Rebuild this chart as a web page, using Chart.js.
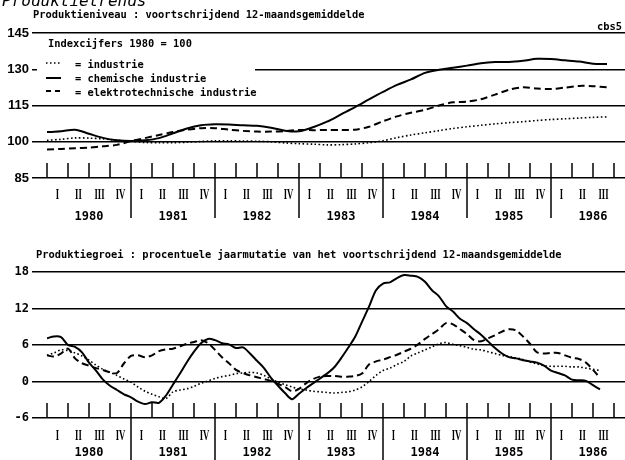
<!DOCTYPE html>
<html lang="nl">
<head>
<meta charset="utf-8">
<title>Produktietrends</title>
<script src="https://cdn.jsdelivr.net/npm/chart.js@4.4.1/dist/chart.umd.min.js"></script>
<style>
  html, body { margin: 0; padding: 0; background: #fff; }
  #pagina { position: relative; width: 625px; height: 460px; overflow: hidden; color: #000;
            font-family: "DejaVu Sans Mono", monospace; }
  .vak { position: absolute; left: 0; width: 625px; height: 230px; }
  #vakNiveau { top: 0; }
  #vakGroei { top: 230px; }
  .tekst { position: absolute; white-space: nowrap; line-height: 1; font-size: 10.4px; font-weight: bold; z-index: 3; }
  #hoofdtitel { left: 2px; top: -7px; font-size: 16px; font-weight: normal; font-style: italic; }
  #legendaVak { position: absolute; left: 37px; top: 54px; width: 218px; height: 44px; background: #fff; z-index: 2; }
  .monster { position: absolute; left: 45px; z-index: 3; }
</style>
</head>
<body>
<div id="pagina">
  <div class="vak" id="vakNiveau"><canvas id="niveauChart"></canvas></div>
  <div class="vak" id="vakGroei"><canvas id="groeiChart"></canvas></div>

  <div class="tekst" id="hoofdtitel">Produktietrends</div>
  <div class="tekst" style="left:33px; top:9px;">Produktieniveau : voortschrijdend 12-maandsgemiddelde</div>
  <div class="tekst" style="left:597px; top:21px;">cbs5</div>
  <div class="tekst" style="left:48px; top:38px;">Indexcijfers 1980 = 100</div>

  <div id="legendaVak"></div>
  <svg class="monster" style="top:60px" width="18" height="6"><line x1="1" y1="3" x2="17" y2="3" stroke="#000" stroke-width="1.5" stroke-dasharray="1.5 2.5"/></svg>
  <svg class="monster" style="top:75px" width="18" height="6"><line x1="1" y1="3" x2="16" y2="3" stroke="#000" stroke-width="2"/></svg>
  <svg class="monster" style="top:88px" width="18" height="6"><line x1="1" y1="3" x2="17" y2="3" stroke="#000" stroke-width="2" stroke-dasharray="5 4"/></svg>
  <div class="tekst" style="left:75px; top:59px;">= industrie</div>
  <div class="tekst" style="left:75px; top:73px;">= chemische industrie</div>
  <div class="tekst" style="left:75px; top:87px;">= elektrotechnische industrie</div>

  <div class="tekst" style="left:36px; top:249px;">Produktiegroei : procentuele jaarmutatie van het voortschrijdend 12-maandsgemiddelde</div>
</div>

<script>
// maanden vanaf januari 1980
const maandenNiveau = [0, 2, 4, 6, 8, 10, 12, 14, 16, 18, 20, 22, 24, 26, 28, 30, 32, 34, 36, 38,
    40, 42, 44, 46, 48, 50, 52, 54, 56, 58, 60, 62, 64, 66, 68, 70, 72, 74, 76, 78, 80];

const niveauIndustrie = [100.6, 101.0, 101.6, 101.5, 101.2, 100.6, 100.2, 99.7, 99.6, 99.6,
    99.8, 100.1, 100.4, 100.4, 100.3, 100.2, 100.0, 99.5, 99.2, 99.0,
    98.7, 98.8, 99.1, 99.6, 100.4, 101.7, 102.8, 103.7, 104.6, 105.5,
    106.2, 106.8, 107.4, 107.9, 108.3, 108.8, 109.2, 109.5, 109.8, 110.1, 110.3];
const niveauChemie = [104.0, 104.3, 105.0, 103.3, 101.6, 100.6, 100.3, 100.6, 101.5, 103.5,
    105.5, 106.8, 107.2, 107.1, 106.8, 106.6, 105.8, 104.6, 104.3, 106.0,
    108.3, 111.3, 114.3, 117.5, 120.6, 123.5, 125.8, 128.5, 129.8, 130.6,
    131.5, 132.5, 133.0, 133.0, 133.5, 134.3, 134.2, 133.7, 133.2, 132.3, 132.2];
const niveauElektro = [96.8, 97.0, 97.3, 97.6, 98.1, 98.7, 100.3, 101.5, 102.8, 104.0,
    105.0, 105.6, 105.6, 105.0, 104.5, 104.2, 104.2, 104.4, 104.9, 104.8,
    104.9, 104.9, 105.0, 106.2, 108.5, 110.5, 112.0, 113.2, 115.0, 116.3,
    116.6, 117.6, 119.5, 121.5, 122.5, 122.0, 121.8, 122.4, 123.1, 123.0, 122.5];

const maandenGroei = [0, 1, 2, 3, 4, 5, 6, 7, 8, 9, 10, 11, 12, 13, 14, 15, 16, 17, 18, 19,
    20, 21, 22, 23, 24, 25, 26, 27, 28, 29, 30, 31, 32, 33, 34, 35, 36, 37, 38, 39,
    40, 41, 42, 43, 44, 45, 46, 47, 48, 49, 50, 51, 52, 53, 54, 55, 56, 57, 58, 59,
    60, 61, 62, 63, 64, 65, 66, 67, 68, 69, 70, 71, 72, 73, 74, 75, 76, 77, 78, 79];

const groeiIndustrie = [4.3, 4.7, 5.2, 5.1, 4.7, 4.2, 3.5, 2.7, 2.0, 1.5,
    1.0, 0.4, -0.1, -0.9, -1.6, -2.1, -2.5, -2.8, -1.7, -1.4,
    -1.2, -0.8, -0.3, 0.1, 0.5, 0.8, 1.0, 1.3, 1.4, 1.5,
    1.4, 1.0, 0.4, -0.1, -0.5, -0.9, -1.2, -1.4, -1.6, -1.7,
    -1.8, -1.9, -1.8, -1.7, -1.4, -0.9, 0.0, 1.0, 1.8, 2.2,
    2.8, 3.3, 4.2, 4.7, 5.2, 5.7, 6.2, 6.4, 6.1, 5.9,
    5.6, 5.3, 5.2, 4.9, 4.6, 4.3, 4.1, 3.9, 3.6, 3.2,
    2.9, 2.6, 2.5, 2.5, 2.5, 2.4, 2.4, 2.2, 2.0, 1.8];
const groeiChemie = [7.1, 7.4, 7.3, 6.0, 5.7, 4.8, 3.1, 1.8, 0.3, -0.7,
    -1.4, -2.1, -2.6, -3.3, -3.7, -3.4, -3.5, -2.3, -0.5, 1.3,
    3.2, 4.9, 6.3, 7.0, 6.8, 6.3, 6.1, 5.5, 5.6, 4.6,
    3.4, 2.2, 0.6, -0.7, -1.9, -2.9, -2.0, -1.1, -0.3, 0.5,
    1.3, 2.3, 3.8, 5.5, 7.3, 9.8, 12.3, 15.0, 16.1, 16.3,
    17.0, 17.5, 17.4, 17.2, 16.4, 15.0, 14.0, 12.4, 11.5, 10.3,
    9.6, 8.6, 7.7, 6.6, 5.5, 4.6, 4.0, 3.8, 3.5, 3.3,
    3.1, 2.6, 1.8, 1.4, 1.0, 0.3, 0.2, 0.1, -0.6, -1.3];
const groeiElektro = [4.3, 4.1, 4.6, 5.4, 3.8, 3.0, 2.6, 2.2, 1.9, 1.5,
    1.4, 3.0, 4.2, 4.3, 4.0, 4.3, 5.0, 5.3, 5.4, 5.8,
    6.2, 6.5, 6.8, 6.3, 5.2, 4.0, 3.0, 1.9, 1.4, 1.0,
    0.7, 0.4, 0.1, -0.4, -0.9, -1.6, -1.2, -0.3, 0.4, 0.8,
    0.9, 0.9, 0.8, 0.8, 0.9, 1.3, 2.8, 3.3, 3.6, 4.0,
    4.4, 4.9, 5.4, 6.1, 7.0, 7.8, 8.6, 9.6, 9.4, 8.6,
    7.8, 6.8, 6.6, 7.1, 7.6, 8.2, 8.6, 8.4, 7.4, 6.2,
    4.8, 4.6, 4.7, 4.7, 4.3, 3.9, 3.7, 3.1, 1.9, 0.6];

const niveauTicks = [85, 100, 115, 130, 145];
const groeiTicks = [-6, 0, 6, 12, 18];
const kwartalen = ['I', 'II', 'III', 'IV'];
const jaren = ['1980', '1981', '1982', '1983', '1984', '1985', '1986'];

// kwartaalverdeling onder de grafiek: streepjes, jaarlijnen, romeinse cijfers en jaartallen
const kwartaalAs = {
    id: 'kwartaalAs',
    afterDraw(chart, args, opts) {
        const ctx = chart.ctx;
        const xs = chart.scales.x;
        const basis = chart.chartArea.bottom;
        ctx.save();
        ctx.strokeStyle = '#000';
        ctx.lineWidth = 1.5;
        for (let q = 0; q * 3 <= xs.max; q++) {
            const px = Math.round(xs.getPixelForValue(q * 3));
            const jaarGrens = q % 4 === 0 && q > 0;
            ctx.beginPath();
            ctx.moveTo(px, basis - 15);
            ctx.lineTo(px, jaarGrens ? basis + opts.jaarLijn : basis);
            ctx.stroke();
        }
        ctx.fillStyle = '#000';
        ctx.textAlign = 'center';
        ctx.textBaseline = 'middle';
        ctx.font = 'bold 14px "Liberation Serif"';
        for (let q = 0; q * 3 + 3 <= xs.max; q++) {
            const px = xs.getPixelForValue(q * 3 + 1.5);
            ctx.save();
            ctx.translate(px, basis + opts.romeinY);
            ctx.scale(0.62, 1);
            ctx.fillText(kwartalen[q % 4], 0, 0);
            ctx.restore();
        }
        ctx.font = 'bold 12px "DejaVu Sans Mono"';
        jaren.forEach((j, i) => {
            ctx.fillText(j, xs.getPixelForValue(i * 12 + 6), basis + opts.jaarY);
        });
        ctx.restore();
    }
};

function reeks(maanden, waarden) {
    return maanden.map((m, i) => ({ x: m, y: waarden[i] }));
}

function maakGrafiek(id, maanden, ind, chem, elek, yMin, yMax, yTicks, tickFont, padding, asOpties) {
    new Chart(document.getElementById(id), {
        type: 'line',
        data: {
            datasets: [
                { label: 'industrie', data: reeks(maanden, ind), borderColor: '#000', borderWidth: 1.6,
                  borderDash: [1.6, 2.4], pointRadius: 0, tension: 0.3 },
                { label: 'chemische industrie', data: reeks(maanden, chem), borderColor: '#000', borderWidth: 2,
                  pointRadius: 0, tension: 0.3 },
                { label: 'elektrotechnische industrie', data: reeks(maanden, elek), borderColor: '#000', borderWidth: 2,
                  borderDash: [7, 4], pointRadius: 0, tension: 0.3 }
            ]
        },
        options: {
            responsive: true,
            maintainAspectRatio: false,
            animation: false,
            layout: { padding: padding },
            plugins: {
                legend: { display: false },
                tooltip: { enabled: false },
                kwartaalAs: asOpties
            },
            scales: {
                x: { type: 'linear', min: -1.571, max: 82.571, display: false },
                y: {
                    min: yMin,
                    max: yMax,
                    afterBuildTicks: s => { s.ticks = yTicks.map(v => ({ value: v })); },
                    afterFit: s => { s.width = 36; },
                    border: { display: false },
                    grid: { color: '#000', lineWidth: 1.5, tickLength: 4 },
                    ticks: { color: '#000', padding: 3, font: tickFont }
                }
            }
        },
        plugins: [kwartaalAs]
    });
}

maakGrafiek('niveauChart', maandenNiveau, niveauIndustrie, niveauChemie, niveauElektro,
    85, 145, niveauTicks,
    { family: 'Liberation Sans', size: 13, weight: 'bold' },
    { top: 33, bottom: 52, left: 0, right: 0 },
    { jaarLijn: 40, romeinY: 17, jaarY: 39 });

maakGrafiek('groeiChart', maandenGroei, groeiIndustrie, groeiChemie, groeiElektro,
    -6, 18, groeiTicks,
    { family: 'DejaVu Sans Mono', size: 12, weight: 'bold' },
    { top: 42, bottom: 42, left: 0, right: 0 },
    { jaarLijn: 42, romeinY: 18, jaarY: 35 });
</script>
</body>
</html>
